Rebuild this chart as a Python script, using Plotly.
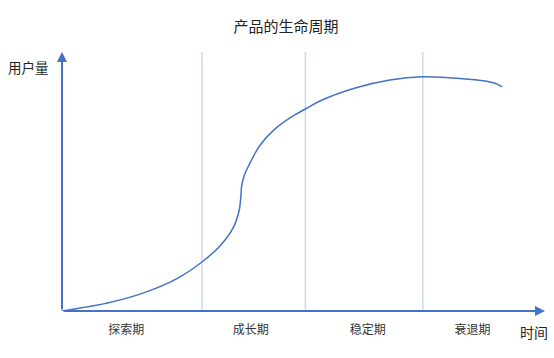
import plotly.graph_objects as go

# Curve of user count over time (axis units 0-100)
curve_x = [0.0, 9.2, 16.6, 23.9, 29.3, 32.7, 35.4, 36.7, 37.0, 37.2, 37.7, 38.5,
           41.0, 44.1, 47.2, 50.4, 53.4, 60.7, 67.9, 74.7, 82.4, 87.6, 90.1, 91.1]
curve_y = [0.0, 3.0, 6.8, 12.6, 19.4, 25.1, 32.0, 39.0, 43.6, 48.3, 52.1, 55.6,
           64.0, 70.3, 74.6, 78.0, 81.1, 86.1, 89.2, 90.4, 89.8, 88.8, 87.6, 86.5]

stage_names = ["探索期", "成长期", "稳定期", "衰退期"]
stage_label_x = [13.3, 39.1, 63.3, 85.0]
stage_boundaries = [29.0, 50.4, 74.7]

BLUE = "#4472C4"
LIGHT = "#C9DAF0"
FONT = "Noto Sans CJK SC"

fig = go.Figure()
fig.add_trace(go.Scatter(x=curve_x, y=curve_y, mode="lines",
                         line=dict(color=BLUE, width=1.5, shape="spline", smoothing=0.8),
                         hoverinfo="skip", showlegend=False))

for b in stage_boundaries:
    fig.add_shape(type="line", x0=b, x1=b, y0=0, y1=100, xref="x", yref="y",
                  line=dict(color=LIGHT, width=1.5), layer="below")

# axis arrows
fig.add_annotation(x=100, y=0, ax=0, ay=0, xref="x", yref="y", axref="x", ayref="y",
                   text="", showarrow=True, arrowhead=2, arrowsize=1, arrowwidth=2,
                   arrowcolor=BLUE, standoff=0, startstandoff=0)
fig.add_annotation(x=0, y=100, ax=0, ay=0, xref="x", yref="y", axref="x", ayref="y",
                   text="", showarrow=True, arrowhead=2, arrowsize=1, arrowwidth=2,
                   arrowcolor=BLUE, standoff=0, startstandoff=0)

fig.add_annotation(text="用户量", xref="paper", yref="paper", x=0, y=1, xanchor="right",
                   yanchor="middle", xshift=-11, yshift=-15, showarrow=False,
                   font=dict(family=FONT, size=13.5, color="#222"))
fig.add_annotation(text="时间", xref="paper", yref="paper", x=1, y=0, xanchor="center",
                   yanchor="middle", xshift=-11, yshift=-21, showarrow=False,
                   font=dict(family=FONT, size=14, color="#222"))

fig.update_layout(
    width=554, height=358,
    margin=dict(l=62, r=9, t=52, b=47),
    paper_bgcolor="white", plot_bgcolor="white",
    title=dict(text="产品的生命周期", x=286/554, xref="container", xanchor="center",
               y=1-27/358, yref="container", yanchor="middle",
               font=dict(family=FONT, size=15, color="#222")),
    xaxis=dict(range=[0, 100], showgrid=False, zeroline=False, showline=False,
               tickvals=stage_label_x, ticktext=stage_names, ticks="outside",
               ticklen=8, tickcolor="rgba(0,0,0,0)",
               tickfont=dict(family=FONT, size=12, color="#333"), fixedrange=True),
    yaxis=dict(range=[0, 100], showgrid=False, zeroline=False, showline=False,
               showticklabels=False, fixedrange=True),
)

fig.write_html("out.html")
